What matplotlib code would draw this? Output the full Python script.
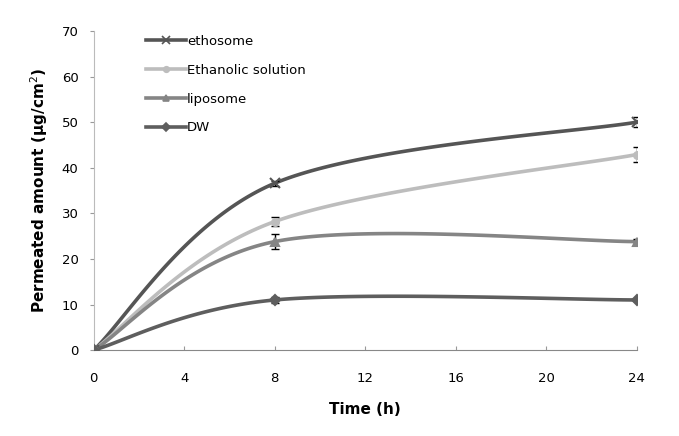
import matplotlib.pyplot as plt
import numpy as np

# datos
time = [0, 8, 24]
ethosome = [0, 36.6, 50.0]
ethosome_err = [0, 0.6, 1.1]
ethanolic = [0, 28.2, 42.9]
ethanolic_err = [0, 1.0, 1.6]
liposome = [0, 23.8, 23.8]
liposome_err = [0, 1.7, 0.5]
dw = [0, 11.0, 11.0]
dw_err = [0, 0.6, 0.3]


def smooth(x, y, n=60):
    # curva suave tipo Excel (Bezier por tramos, Catmull-Rom)
    p = np.column_stack([x, y]).astype(float)
    pts = []
    for i in range(len(p) - 1):
        p0 = p[i - 1] if i > 0 else p[i]
        p1, p2 = p[i], p[i + 1]
        p3 = p[i + 2] if i + 2 < len(p) else p[i + 1]
        c1 = p1 + (p2 - p0) / 6
        c2 = p2 - (p3 - p1) / 6
        t = np.linspace(0, 1, n)[:, None]
        seg = (1 - t)**3 * p1 + 3 * (1 - t)**2 * t * c1 + 3 * (1 - t) * t**2 * c2 + t**3 * p2
        pts.append(seg)
    s = np.vstack(pts)
    return s[:, 0], s[:, 1]


fig = plt.figure(figsize=(6.79, 4.36), dpi=100)
ax = fig.add_axes([0.138, 0.197, 0.8, 0.732])

series = [
    ("ethosome", ethosome, ethosome_err, "#555555", "x", 7),
    ("Ethanolic solution", ethanolic, ethanolic_err, "#bdbdbd", "o", 5),
    ("liposome", liposome, liposome_err, "#858585", "^", 6),
    ("DW", dw, dw_err, "#5e5e5e", "D", 5),
]

for name, vals, err, col, mk, ms in series:
    xs, ys = smooth(time, vals)
    ax.plot(xs, ys, color=col, lw=2.6, zorder=2)
    ax.errorbar(time, vals, yerr=err, fmt="none", ecolor="black", elinewidth=1,
                capsize=3, capthick=1, zorder=3)
    ax.plot(time, vals, ls="none", marker=mk, color=col, ms=ms, mew=1.5, zorder=4)
    ax.plot([], [], color=col, lw=2.6, marker=mk, ms=ms - 1, mew=1.2, label=name)

ax.set_xlim(0, 24)
ax.set_ylim(0, 70)
ax.set_xticks(np.arange(0, 25, 4))
ax.set_yticks(np.arange(0, 71, 10))
ax.tick_params(axis="both", labelsize=9.5, length=3, color="#999999")
ax.tick_params(axis="x", direction="in", pad=16)
ax.tick_params(axis="y", direction="out", pad=8)
ax.spines["top"].set_visible(False)
ax.spines["right"].set_visible(False)
ax.spines["left"].set_color("#bbbbbb")
ax.spines["bottom"].set_color("#888888")

ax.set_xlabel("Time (h)", fontsize=11, fontweight="bold", labelpad=12)
ax.set_ylabel("Permeated amount (μg/cm$^2$)", fontsize=11, fontweight="bold", labelpad=8)

ax.legend(loc="upper left", bbox_to_anchor=(0.075, 1.025), frameon=False, fontsize=9.5,
          handlelength=3, labelspacing=1.2, handletextpad=0.1)

fig.savefig("out.png", dpi=100)
